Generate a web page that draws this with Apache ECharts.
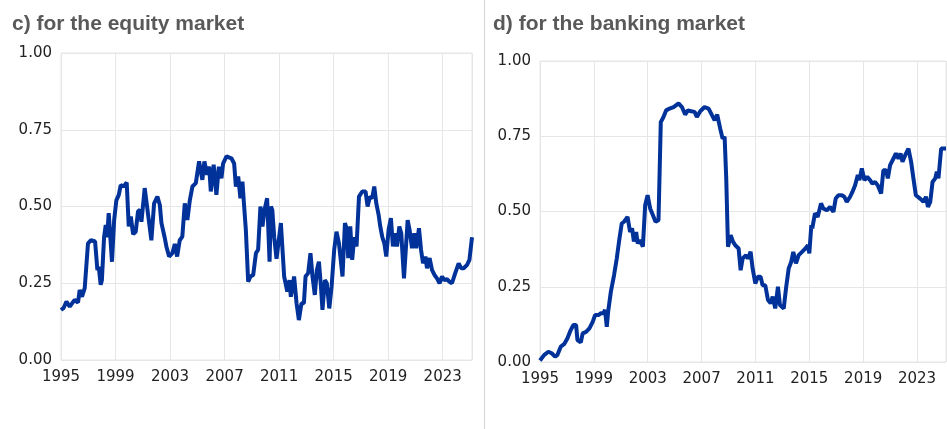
<!DOCTYPE html>
<html>
<head>
<meta charset="utf-8">
<script src="https://cdn.jsdelivr.net/npm/echarts@6/dist/echarts.min.js"></script>
<style>
  html, body { margin: 0; padding: 0; background: #fff; }
  #chart { width: 947px; height: 429px; }
</style>
</head>
<body>
<div id="chart"></div>
<script>
// panel c) equity market : decimal year / value
var eqYears = [1995.0, 1995.2, 1995.4, 1995.64, 1996.0, 1996.25, 1996.37, 1996.54, 1996.74, 1996.98,
  1997.2, 1997.5, 1997.67, 1997.77, 1997.91, 1998.0, 1998.16, 1998.28, 1998.38, 1998.5,
  1998.74, 1998.9, 1999.06, 1999.24, 1999.38, 1999.6, 1999.82, 1999.97, 2000.12, 2000.29,
  2000.48, 2000.65, 2000.8, 2000.9, 2001.14, 2001.26, 2001.44, 2001.63, 2001.83, 2002.07,
  2002.25, 2002.37, 2002.6, 2002.73, 2002.93, 2003.17, 2003.35, 2003.52, 2003.71, 2003.9,
  2004.08, 2004.27, 2004.45, 2004.64, 2004.89, 2005.13, 2005.37, 2005.52, 2005.72, 2005.87,
  2005.99, 2006.2, 2006.4, 2006.58, 2006.77, 2006.89, 2007.14, 2007.5, 2007.7, 2007.83,
  2008.0, 2008.16, 2008.31, 2008.41, 2008.56, 2008.73, 2008.9, 2009.1, 2009.3, 2009.46,
  2009.63, 2009.78, 2009.93, 2010.12, 2010.3, 2010.4, 2010.5, 2010.64, 2010.81, 2011.13,
  2011.37, 2011.6, 2011.76, 2011.86, 2012.1, 2012.28, 2012.45, 2012.64, 2012.82, 2012.94,
  2013.13, 2013.3, 2013.45, 2013.62, 2013.77, 2013.92, 2014.07, 2014.18, 2014.36, 2014.5,
  2014.68, 2014.85, 2015.04, 2015.21, 2015.39, 2015.65, 2015.83, 2015.98, 2016.07, 2016.22,
  2016.36, 2016.51, 2016.68, 2016.86, 2017.1, 2017.34, 2017.49, 2017.66, 2017.83, 2017.98,
  2018.13, 2018.3, 2018.42, 2018.57, 2018.72, 2018.86, 2019.03, 2019.2, 2019.35, 2019.52,
  2019.65, 2019.82, 2019.96, 2020.16, 2020.43, 2020.57, 2020.75, 2020.92, 2021.06, 2021.26,
  2021.41, 2021.56, 2021.73, 2021.85, 2022.04, 2022.22, 2022.4, 2022.58, 2022.77, 2022.95,
  2023.12, 2023.31, 2023.5, 2023.68, 2023.92, 2024.17, 2024.35, 2024.54, 2024.79, 2024.96,
  2025.15];
var eqValues = [0.163, 0.17, 0.19, 0.174, 0.196, 0.187, 0.228, 0.206, 0.234, 0.38,
  0.39, 0.386, 0.293, 0.304, 0.245, 0.26, 0.40, 0.44, 0.40, 0.478,
  0.32, 0.456, 0.52, 0.538, 0.57, 0.565, 0.578, 0.435, 0.467, 0.41,
  0.418, 0.484, 0.489, 0.45, 0.56, 0.554, 0.456, 0.39, 0.51, 0.532,
  0.505, 0.446, 0.40, 0.37, 0.337, 0.348, 0.378, 0.337, 0.39, 0.402,
  0.51, 0.456, 0.52, 0.565, 0.576, 0.647, 0.587, 0.647, 0.603, 0.63,
  0.549, 0.636, 0.538, 0.63, 0.592, 0.64, 0.663, 0.657, 0.64, 0.565,
  0.598, 0.527, 0.581, 0.516, 0.424, 0.255, 0.272, 0.277, 0.348, 0.359,
  0.50, 0.435, 0.489, 0.527, 0.32, 0.50, 0.489, 0.40, 0.33, 0.446,
  0.272, 0.223, 0.26, 0.206, 0.272, 0.185, 0.13, 0.185, 0.185, 0.272,
  0.283, 0.348, 0.272, 0.212, 0.293, 0.32, 0.239, 0.163, 0.26, 0.25,
  0.168, 0.239, 0.359, 0.418, 0.38, 0.272, 0.446, 0.424, 0.332, 0.435,
  0.326, 0.40, 0.37, 0.532, 0.549, 0.549, 0.50, 0.532, 0.527, 0.565,
  0.51, 0.473, 0.435, 0.40, 0.38, 0.337, 0.424, 0.462, 0.37, 0.413,
  0.37, 0.435, 0.413, 0.266, 0.456, 0.424, 0.364, 0.413, 0.364, 0.429,
  0.359, 0.315, 0.337, 0.299, 0.332, 0.293, 0.277, 0.266, 0.25, 0.272,
  0.26, 0.263, 0.255, 0.25, 0.283, 0.315, 0.299, 0.299, 0.31, 0.326,
  0.40];

// panel d) banking market : decimal year / value
var bkYears = [1995.0, 1995.3, 1995.62, 1995.87, 1996.12, 1996.29, 1996.54, 1996.79, 1997.04, 1997.28,
  1997.48, 1997.68, 1997.78, 1998.03, 1998.17, 1998.42, 1998.67, 1998.92, 1999.09, 1999.36,
  1999.51, 1999.71, 1999.83, 1999.96, 2000.06, 2000.26, 2000.5, 2000.7, 2000.9, 2001.07,
  2001.24, 2001.5, 2001.69, 2001.84, 2001.97, 2002.14, 2002.26, 2002.43, 2002.64, 2002.81,
  2002.99, 2003.18, 2003.38, 2003.58, 2003.8, 2003.97, 2004.17, 2004.37, 2004.62, 2004.92,
  2005.29, 2005.54, 2005.78, 2005.98, 2006.23, 2006.48, 2006.65, 2006.9, 2007.22, 2007.52,
  2007.77, 2007.97, 2008.16, 2008.38, 2008.56, 2008.71, 2008.83, 2008.96, 2009.16, 2009.33,
  2009.5, 2009.75, 2009.9, 2010.05, 2010.3, 2010.44, 2010.64, 2010.79, 2010.99, 2011.18,
  2011.38, 2011.53, 2011.73, 2011.93, 2012.13, 2012.28, 2012.47, 2012.67, 2012.82, 2013.1,
  2013.27, 2013.47, 2013.66, 2013.81, 2014.01, 2014.21, 2014.46, 2014.71, 2014.9, 2015.0,
  2015.15, 2015.22, 2015.42, 2015.62, 2015.87, 2016.04, 2016.3, 2016.54, 2016.79, 2016.96,
  2017.16, 2017.41, 2017.6, 2017.78, 2018.03, 2018.2, 2018.4, 2018.6, 2018.72, 2018.9,
  2019.09, 2019.29, 2019.51, 2019.68, 2019.88, 2020.08, 2020.33, 2020.5, 2020.7, 2020.83,
  2021.0, 2021.25, 2021.43, 2021.62, 2021.77, 2021.92, 2022.12, 2022.36, 2022.56, 2022.73,
  2022.91, 2023.23, 2023.48, 2023.66, 2023.81, 2023.98, 2024.15, 2024.35, 2024.47, 2024.59,
  2024.79, 2025.15];
var bkValues = [0.005, 0.023, 0.034, 0.029, 0.018, 0.023, 0.051, 0.059, 0.079, 0.106,
  0.123, 0.123, 0.073, 0.065, 0.095, 0.10, 0.112, 0.134, 0.156, 0.156,
  0.162, 0.162, 0.173, 0.117, 0.167, 0.233, 0.289, 0.344, 0.41, 0.46,
  0.466, 0.482, 0.432, 0.444, 0.40, 0.432, 0.394, 0.405, 0.383, 0.521,
  0.554, 0.51, 0.488, 0.466, 0.471, 0.797, 0.814, 0.836, 0.842, 0.847,
  0.859, 0.847, 0.822, 0.836, 0.833, 0.831, 0.814, 0.833, 0.847, 0.842,
  0.82, 0.803, 0.822, 0.776, 0.742, 0.748, 0.61, 0.383, 0.421, 0.40,
  0.388, 0.377, 0.305, 0.344, 0.355, 0.344, 0.366, 0.311, 0.261, 0.283,
  0.283, 0.255, 0.255, 0.206, 0.195, 0.217, 0.178, 0.25, 0.189, 0.178,
  0.245, 0.311, 0.333, 0.366, 0.328, 0.355, 0.366, 0.377, 0.388, 0.361,
  0.455, 0.444, 0.494, 0.482, 0.527, 0.51, 0.504, 0.515, 0.499, 0.543,
  0.554, 0.554, 0.549, 0.532, 0.549, 0.565, 0.587, 0.621, 0.604, 0.643,
  0.604, 0.615, 0.604, 0.593, 0.598, 0.587, 0.56, 0.637, 0.637, 0.61,
  0.654, 0.676, 0.693, 0.676, 0.693, 0.665, 0.687, 0.709, 0.665, 0.61,
  0.554, 0.543, 0.532, 0.549, 0.515, 0.532, 0.598, 0.61, 0.632, 0.61,
  0.709, 0.709];

var yTicks = [0, 0.25, 0.5, 0.75, 1];
var xStart = 1995, xEnd = 2025.15, xStep = 4;

function pairs(xs, ys) {
  var out = [];
  for (var i = 0; i < xs.length; i++) out.push([xs[i], ys[i]]);
  return out;
}

var chart = echarts.init(document.getElementById('chart'), null, { renderer: 'canvas' });

var gridLine = '#e6e6e6';
var labelStyle = { color: '#222', fontSize: 15, fontFamily: 'DejaVu Sans' };
var titleStyle = { fontSize: 21, fontWeight: 'bold', color: '#595959', fontFamily: 'Liberation Sans' };

function xAxisFor(idx) {
  return {
    gridIndex: idx, type: 'value', min: xStart, max: xEnd, interval: xStep,
    axisLine: { show: false }, axisTick: { show: false },
    axisLabel: Object.assign({ margin: 10, showMaxLabel: false,
      formatter: function (v) { return Math.round(v).toString(); } }, labelStyle),
    splitLine: { show: true, lineStyle: { color: gridLine, width: 1 } }
  };
}
function yAxisFor(idx) {
  return {
    gridIndex: idx, type: 'value', min: yTicks[0], max: yTicks[yTicks.length - 1], interval: 0.25,
    axisLine: { show: false }, axisTick: { show: false },
    axisLabel: Object.assign({ margin: 9,
      formatter: function (v) { return v.toFixed(2); } }, labelStyle),
    splitLine: { show: true, lineStyle: { color: gridLine, width: 1 } }
  };
}

var option = {
  animation: false,
  backgroundColor: '#fff',
  title: [
    { text: 'c) for the equity market', left: 7, top: 9, textStyle: titleStyle },
    { text: 'd) for the banking market', left: 488, top: 9, textStyle: titleStyle }
  ],
  graphic: [
    { type: 'line', shape: { x1: 484.5, y1: 0, x2: 484.5, y2: 429 },
      style: { stroke: '#d4d4d4', lineWidth: 1 } }
  ],
  grid: [
    { left: 61, right: 475, top: 53, bottom: 69, show: true, borderColor: gridLine, borderWidth: 1 },
    { left: 540, right: 1, top: 61, bottom: 67, show: true, borderColor: gridLine, borderWidth: 1 }
  ],
  xAxis: [xAxisFor(0), xAxisFor(1)],
  yAxis: [yAxisFor(0), yAxisFor(1)],
  series: [
    { type: 'line', xAxisIndex: 0, yAxisIndex: 0, data: pairs(eqYears, eqValues),
      showSymbol: false, lineStyle: { color: '#003299', width: 4 } },
    { type: 'line', xAxisIndex: 1, yAxisIndex: 1, data: pairs(bkYears, bkValues),
      showSymbol: false, lineStyle: { color: '#003299', width: 4 } }
  ]
};
chart.setOption(option);
window.addEventListener('resize', function () { chart.resize(); });
</script>
</body>
</html>
